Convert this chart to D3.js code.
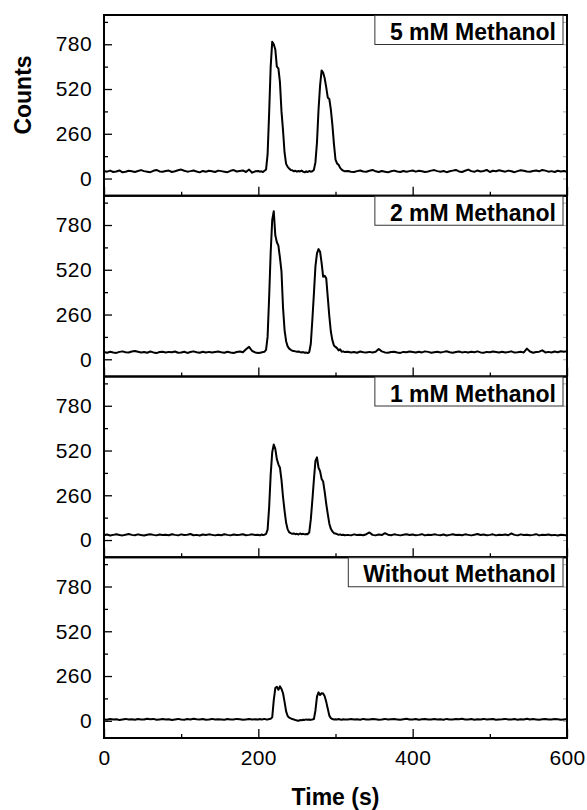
<!DOCTYPE html>
<html>
<head>
<meta charset="utf-8">
<script src="https://cdn.jsdelivr.net/npm/d3@7"></script>
<style>
  body { margin: 0; background: #fff; }
  svg text { font-family: "Liberation Sans", Arial, sans-serif; fill: #000; }
</style>
</head>
<body>
<div id="chart"></div>
<script>
// ---------------- data

const panelLabels = ["5 mM Methanol", "2 mM Methanol", "1 mM Methanol", "Without Methanol"]
const yTicks = [0, 260, 520, 780]
const yMinorTicks = [130, 390, 650, 910]
const xTicks = [0, 200, 400, 600]
const xMinorTicks = [100, 300, 500]

// sampling times: 4 s outside the peaks, 2 s across them
const times = [].concat(d3.range(0, 200, 4), d3.range(200, 314, 2), d3.range(316, 601, 4))

const counts5mM = [
    44,40,46,38,41,47,36,39,45,42, 38,44,49,43,40,37,45,50,41,39, 44,46,38,42,48,52,45,40,43,47,
    41,36,44,39,45,42,38,46,43,40, 37,45,49,41,44,47,38,52,34,42,
    44,40,42,38,45,52,140,380,650,795, 780,750,650,640,560,390,280,150,85,68,
    58,50,48,42,45,40,44,41,46,40, 36,42,38,44,40,42,50,95,210,400,
    540,628,615,582,530,470,462,400,310,200, 110,88,80,62,52,46,42,
    44,40,38,43,47,41,39,45,50,42, 38,44,40,36,42,46,41,38,44,39, 43,47,40,45,42,38,41,46,49,43,
    40,44,37,42,46,50,41,38,45,52, 43,39,47,41,44,50,38,45,42,48, 44,40,46,42,37,43,48,45,41,39,
    44,47,42,50,46,40,43,38,45,41, 44,40
]

const counts2mM = [
    42,38,44,40,37,43,46,41,39,45, 48,44,40,42,38,45,40,36,42,44, 39,43,41,45,38,40,44,37,42,46,
    41,38,44,40,43,39,42,45,41,38, 44,40,37,42,45,41,58,72,48,40,
    36,38,40,42,44,55,130,360,620,810, 860,720,680,660,590,510,300,170,105,75,
    62,55,50,48,46,44,45,42,40,42, 38,40,36,42,90,230,380,540,615,640,
    625,560,480,485,470,360,250,160,110,80, 72,65,52,58,44,46,42,
    44,40,42,38,45,41,39,43,40,44, 60,46,40,38,42,44,40,37,43,41, 45,42,39,44,40,46,43,38,41,44,
    40,43,47,41,38,42,45,40,43,39, 44,41,46,40,38,43,41,45,42,39, 44,40,42,46,39,41,44,40,62,45,
    38,42,44,52,40,43,39,45,41,47, 44,46
]

const counts1mM = [
    28,32,26,30,34,29,27,31,35,30, 28,33,29,26,31,34,30,27,32,29, 31,28,34,30,27,33,29,31,35,28,
    30,26,32,29,33,30,27,31,28,34, 30,27,32,29,31,34,28,30,33,29,
    30,27,32,29,31,35,60,190,380,510, 555,530,470,440,420,350,250,170,100,62,
    45,40,36,38,34,36,32,38,34,36, 33,35,34,45,120,230,350,460,480,420,
    400,355,340,280,210,150,95,65,50,40, 38,34,30,33,29,31,28,
    30,27,33,29,31,28,34,44,30,27, 32,29,40,31,28,33,30,27,31,34, 29,32,28,30,34,27,31,29,33,30,
    28,32,26,30,34,29,31,28,33,30, 27,31,35,29,32,28,30,33,27,31, 29,32,28,38,30,27,33,29,31,28,
    30,34,27,31,29,32,28,30,26,31, 29,27
]

const countsNone = [
    8,6,10,7,9,5,8,11,7,9, 6,10,8,7,12,9,11,6,8,10, 7,9,5,8,11,7,6,10,8,12,
    9,7,10,6,8,11,7,9,8,6, 10,8,7,11,9,6,8,10,7,9,
    8,10,7,9,11,8,7,10,12,20, 120,190,198,180,200,185,160,110,55,28,
    18,14,10,8,4,2,0,4,3,6, 5,8,6,7,5,8,10,60,140,165,
    150,160,158,142,110,70,30,15,10,8, 9,7,10,8,6,9,7,
    8,10,7,9,6,11,8,7,10,9, 6,8,11,7,9,10,8,6,9,12, 7,8,10,6,9,11,8,7,10,8,
    9,6,11,8,7,10,9,12,8,7, 10,6,9,8,11,7,9,10,6,8, 9,11,7,8,10,6,9,8,12,7,
    10,8,6,9,11,8,7,10,9,6, 8,10
]

const seriesList = [counts5mM, counts2mM, counts1mM, countsNone]

// ---------------- dimensions

const dimensions = {
    width: 587,
    height: 810,
    margin: { top: 15, right: 20, bottom: 72, left: 104 }
}
dimensions.boundedWidth = dimensions.width - dimensions.margin.left - dimensions.margin.right
dimensions.boundedHeight = dimensions.height - dimensions.margin.top - dimensions.margin.bottom
const panelHeight = dimensions.boundedHeight / seriesList.length

const wrapper = d3.select("#chart")
    .append("svg")
    .attr("width", dimensions.width)
    .attr("height", dimensions.height)

const bounds = wrapper.append("g")
    .attr("transform", `translate(${dimensions.margin.left}, ${dimensions.margin.top})`)

// ---------------- scales

const xScale = d3.scaleLinear()
    .domain([0, 600])
    .range([0, dimensions.boundedWidth])

const yScale = d3.scaleLinear()
    .domain([-100, 950])
    .range([panelHeight, 0])

const lineGenerator = d3.line()
    .x((d, i) => xScale(times[i]))
    .y(d => yScale(d))

const tickText = g => g.selectAll("text")
    .style("font-size", "21px")
    .style("letter-spacing", "0.4px")
    .style("font-family", "'Liberation Sans', Arial, sans-serif")
    .attr("fill", "#000")

// ---------------- panels

seriesList.forEach((series, k) => {
    const panel = bounds.append("g")
        .attr("transform", `translate(0, ${k * panelHeight})`)

    // left axis, ticks pointing inward
    panel.append("g")
        .call(d3.axisLeft(yScale).tickValues(yMinorTicks).tickSize(-4).tickFormat(""))
        .call(g => g.select(".domain").remove())
        .call(g => g.selectAll("line").attr("stroke-width", 1.3))
    panel.append("g")
        .call(d3.axisLeft(yScale).tickValues(yTicks).tickSize(-8).tickPadding(12))
        .call(g => g.select(".domain").remove())
        .call(g => g.selectAll("line").attr("stroke-width", 1.3))
        .call(tickText)

    // right axis, faint inner ticks
    panel.append("g")
        .attr("transform", `translate(${dimensions.boundedWidth}, 0)`)
        .call(d3.axisRight(yScale).tickValues(yMinorTicks.concat(yTicks)).tickSize(-4).tickFormat(""))
        .call(g => g.select(".domain").remove())
        .call(g => g.selectAll("line").attr("stroke", "#aaa"))

    // bottom axis, ticks pointing up
    const xAxis = panel.append("g")
        .attr("transform", `translate(0, ${panelHeight})`)
    xAxis.append("g")
        .call(d3.axisBottom(xScale).tickValues(xMinorTicks).tickSize(-4).tickFormat(""))
        .call(g => g.select(".domain").remove())
        .call(g => g.selectAll("line").attr("stroke-width", 1.3))
    xAxis.append("g")
        .call(d3.axisBottom(xScale).tickValues(xTicks).tickSize(-9).tickPadding(12)
            .tickFormat(k === seriesList.length - 1 ? d3.format("d") : ""))
        .call(g => g.select(".domain").remove())
        .call(g => g.selectAll("line").attr("stroke-width", 1.3))
        .call(tickText)

    // data line
    panel.append("path")
        .datum(series)
        .attr("d", lineGenerator)
        .attr("fill", "none")
        .attr("stroke", "#000")
        .attr("stroke-width", 2)
        .attr("stroke-linejoin", "round")

    // frame
    panel.append("rect")
        .attr("width", dimensions.boundedWidth)
        .attr("height", panelHeight)
        .attr("fill", "none")
        .attr("stroke", "#000")
        .attr("stroke-width", 2)

    // label box
    const boxRight = dimensions.boundedWidth - 4
    const labelBox = panel.append("rect")
    const label = panel.append("text")
        .attr("x", boxRight - 7)
        .attr("y", 25)
        .attr("text-anchor", "end")
        .style("font-size", "23px")
        .style("font-weight", "bold")
        .text(panelLabels[k])
    const textWidth = label.node().getComputedTextLength()
    labelBox
        .attr("x", boxRight - 7 - textWidth - 15)
        .attr("y", 0.5)
        .attr("width", textWidth + 22)
        .attr("height", 29)
        .attr("fill", "#fff")
        .attr("stroke", "#333")
        .attr("stroke-width", 1)
})

// ---------------- axis titles

wrapper.append("text")
    .attr("transform", `translate(31, 95) rotate(-90)`)
    .attr("text-anchor", "middle")
    .style("font-size", "23px")
    .style("font-weight", "bold")
    .text("Counts")

wrapper.append("text")
    .attr("x", dimensions.margin.left + dimensions.boundedWidth / 2)
    .attr("y", 805)
    .attr("text-anchor", "middle")
    .style("font-size", "23px")
    .style("font-weight", "bold")
    .text("Time (s)")
</script>
</body>
</html>
